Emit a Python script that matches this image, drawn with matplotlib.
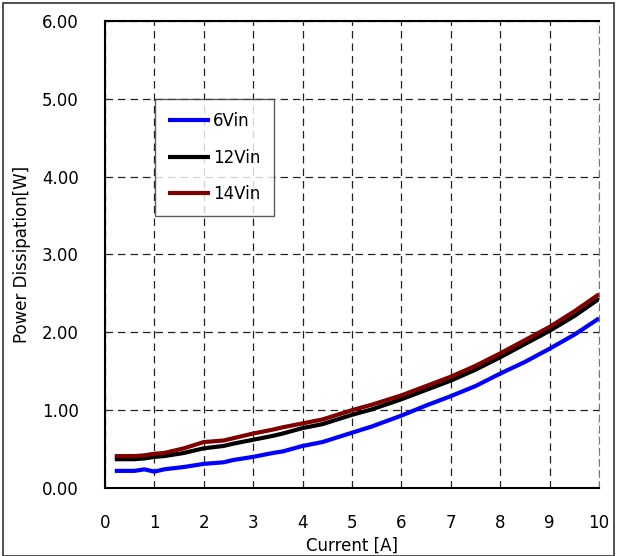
import matplotlib.pyplot as plt
from matplotlib.patches import Rectangle

plt.rcParams['font.family'] = ['DejaVu Sans']

# Current [A]
current = [0.2, 0.6, 0.8, 1.0, 1.2, 1.6, 2.0, 2.4, 2.6, 3.0, 3.4, 3.6, 4.0, 4.4,
           5.0, 5.4, 6.0, 6.5, 7.0, 7.5, 8.0, 8.5, 9.0, 9.5, 10.0]

# Power dissipation [W]
p_6vin = [0.22, 0.22, 0.24, 0.21, 0.24, 0.27, 0.31, 0.33, 0.36, 0.40, 0.45, 0.47, 0.54, 0.59,
          0.71, 0.79, 0.93, 1.06, 1.18, 1.31, 1.47, 1.62, 1.79, 1.97, 2.18]
p_12vin = [0.37, 0.37, 0.38, 0.40, 0.41, 0.45, 0.51, 0.54, 0.57, 0.62, 0.67, 0.70, 0.77, 0.82,
           0.94, 1.01, 1.14, 1.26, 1.38, 1.52, 1.68, 1.85, 2.02, 2.21, 2.43]
p_14vin = [0.41, 0.41, 0.42, 0.44, 0.45, 0.51, 0.59, 0.61, 0.64, 0.70, 0.75, 0.78, 0.83, 0.88,
           1.00, 1.07, 1.19, 1.31, 1.43, 1.57, 1.73, 1.90, 2.07, 2.27, 2.49]

series_labels = ['6Vin', '12Vin', '14Vin']
series_colors = ['#0000ff', '#000000', '#800000']

fig = plt.figure(figsize=(6.17, 5.56), dpi=100)
ax = fig.add_axes([0.170, 0.1223, 0.801, 0.840])

for y, lab, col in zip([p_6vin, p_12vin, p_14vin], series_labels, series_colors):
    ax.plot(current, y, color=col, lw=3, label=lab, solid_capstyle='butt')

ax.set_xlim(0, 10)
ax.set_ylim(0, 6)
ax.set_xticks(range(0, 11))
ax.set_yticks([0, 1, 2, 3, 4, 5, 6])
ax.set_yticklabels(['%.2f' % v for v in ax.get_yticks()])
ax.tick_params(length=0, labelsize=12)
ax.tick_params(axis='x', pad=19)
ax.tick_params(axis='y', pad=19)

ax.grid(True, color='#222222', linestyle=(0, (6, 4)), linewidth=0.9)

for s in ['left', 'bottom', 'top']:
    ax.spines[s].set_linewidth(1.5)
ax.spines['right'].set_linestyle((0, (6, 4)))
ax.spines['right'].set_color('#777777')

ax.set_xlabel('Current [A]', fontsize=12, labelpad=3)
ax.set_ylabel('Power Dissipation[W]', fontsize=12, labelpad=8)

leg = ax.legend(loc='upper left', bbox_to_anchor=(0.101, 0.833), borderaxespad=0,
                frameon=True, fancybox=False, edgecolor='#333333', fontsize=12,
                handlelength=2.5, handletextpad=0.2, labelspacing=1.1, borderpad=0.8)
leg.get_frame().set_linewidth(1.0)

fig.patches.append(Rectangle((0.005, 0.0), 0.99, 0.995, transform=fig.transFigure,
                             fill=False, edgecolor='#333333', linewidth=1.2))

fig.savefig('out.png', dpi=100)
